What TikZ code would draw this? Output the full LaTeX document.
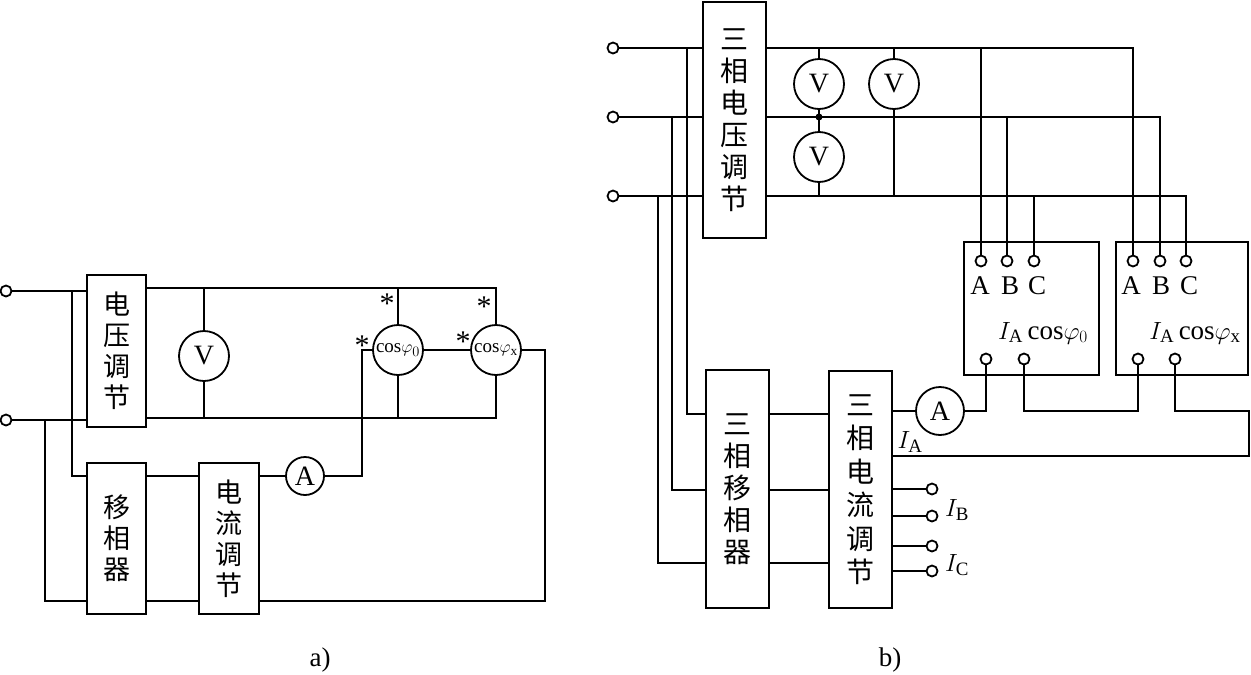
\documentclass[tikz,border=0pt]{standalone}
\usepackage{fontspec}
\setmainfont{Liberation Serif}
\newfontfamily\cjk{Noto Sans CJK SC}
\usepackage{tikz}
\usetikzlibrary{positioning, calc}

\tikzstyle{block} = [draw, inner sep=0pt, align=center, font=\cjk\fontsize{27}{31}\selectfont]
\tikzstyle{meter} = [draw, circle, inner sep=0pt, fill=white, minimum size=50pt, font=\fontsize{28}{28}\selectfont]
\tikzstyle{term} = [draw, circle, inner sep=0pt, fill=white, minimum size=11pt]
\tikzstyle{lbl} = [inner sep=0pt, font=\fontsize{27}{27}\selectfont]
\tikzstyle{starlabel} = [inner sep=0pt, font=\fontsize{30}{30}\selectfont]
\tikzstyle{cosfont} = [font=\fontsize{19}{19}\selectfont]

\begin{document}
\begin{tikzpicture}[x=1pt, y=-1pt, line width=1.8pt]
\useasboundingbox (0,0) rectangle (1251,675);

% a)
\node[term] (ta1) at (6,291) {};
\node[term] (ta2) at (6,420) {};
\node[block, minimum width=59pt, minimum height=152pt] (vreg) at (116.5,351) {电\\压\\调\\节};
\node[block, minimum width=59pt, minimum height=151pt] (shift) at (116.5,538.5) {移\\相\\器};
\node[block, minimum width=60pt, minimum height=151pt] (creg) at (229,538.5) {电\\流\\调\\节};
\node[meter] (Va) at (204,356) {V};
\node[meter, minimum size=38pt] (Aa) at (305,476) {A};
\node[meter, cosfont] (c0) at (398,350) {cos$\varphi_0$};
\node[meter, cosfont] (cx) at (496,350) {cos$\varphi_{\mathrm{x}}$};
\node[starlabel] at (387,304) {*};
\node[starlabel] at (362,346) {*};
\node[starlabel] at (484,307) {*};
\node[starlabel] at (463,342) {*};
\node[lbl] (capa) at (320,660) {a)};

\coordinate (atop) at (496,288);
\coordinate (abot) at (496,418);
\coordinate (tapa1) at (72,291);
\coordinate (tapa2) at (45,420);
\coordinate (bend) at (362,476);
\coordinate (ret) at (545,601);

\draw (ta1) -- (vreg.west |- ta1);
\draw (ta2) -- (vreg.west |- ta2);
\draw (vreg.east |- atop) -- (atop) -- (cx.north);
\draw (vreg.east |- abot) -- (abot) -- (cx.south);
\draw (Va.north) -- (Va |- atop);
\draw (Va.south) -- (Va |- abot);
\draw (c0.north) -- (c0 |- atop);
\draw (c0.south) -- (c0 |- abot);
\draw (c0.east) -- (cx.west);
\draw (tapa1) |- (shift.west |- Aa);
\draw (tapa2) |- (shift.west |- ret);
\draw (shift.east |- Aa) -- (creg.west |- Aa);
\draw (shift.east |- ret) -- (creg.west |- ret);
\draw (creg.east |- Aa) -- (Aa.west);
\draw (Aa.east) -- (bend) |- (c0.west);
\draw (creg.east |- ret) -- (ret) |- (cx.east);

% b)
\node[term] (tb1) at (613,48) {};
\node[term] (tb2) at (613,117) {};
\node[term] (tb3) at (613,196) {};
\node[block, minimum width=63pt, minimum height=236pt, font=\cjk\fontsize{28}{32}\selectfont] (vreg3) at (734.5,120) {三\\相\\电\\压\\调\\节};
\node[block, minimum width=63pt, minimum height=238pt, font=\cjk\fontsize{28}{32}\selectfont] (shift3) at (737.5,489) {三\\相\\移\\相\\器};
\node[block, minimum width=63pt, minimum height=237pt, font=\cjk\fontsize{28}{33.5}\selectfont] (creg3) at (860.5,489.5) {三\\相\\电\\流\\调\\节};
\node[meter] (V1) at (819,84) {V};
\node[meter] (V2) at (894,84) {V};
\node[meter] (V3) at (819,157) {V};
\node[meter, minimum size=48pt] (Ab) at (940,411) {A};
\node[draw, minimum width=135pt, minimum height=133pt] (pf0) at (1031.5,308.5) {};
\node[draw, minimum width=132pt, minimum height=133pt] (pfx) at (1182,308.5) {};
\node[term] (pa0) at (981,261) {};
\node[term] (pb0) at (1007,261) {};
\node[term] (pc0) at (1034,261) {};
\node[term] (pax) at (1133,261) {};
\node[term] (pbx) at (1160,261) {};
\node[term] (pcx) at (1186,261) {};
\node[lbl] at (980,286) {A};
\node[lbl] at (1010,286) {B};
\node[lbl] at (1037,286) {C};
\node[lbl] at (1131,286) {A};
\node[lbl] at (1161,286) {B};
\node[lbl] at (1189,286) {C};
\node[lbl] at (1043,333) {$I_{\mathrm{A}}$\,cos$\varphi_0$};
\node[lbl] at (1195,333) {$I_{\mathrm{A}}$\,cos$\varphi_{\mathrm{x}}$};
\node[term] (pi0) at (986,359) {};
\node[term] (pu0) at (1024,359) {};
\node[term] (pix) at (1138,359) {};
\node[term] (pux) at (1175,359) {};
\node[term] (tB1) at (932,489) {};
\node[term] (tB2) at (932,516) {};
\node[term] (tC1) at (932,546) {};
\node[term] (tC2) at (932,571) {};
\node[lbl] at (910,442) {$I_{\mathrm{A}}$};
\node[lbl] at (957,510) {$I_{\mathrm{B}}$};
\node[lbl] at (957,565) {$I_{\mathrm{C}}$};
\node[lbl] (capb) at (890,660) {b)};

\coordinate (btop) at (1133,48);
\coordinate (bmid) at (1160,117);
\coordinate (bbot) at (1186,196);
\coordinate (tapb1) at (687,48);
\coordinate (tapb2) at (672,117);
\coordinate (tapb3) at (658,196);
\coordinate (sh1) at (706,414);
\coordinate (sh2) at (706,490);
\coordinate (sh3) at (706,563);
\coordinate (jn) at (819,117);
\coordinate (iaend) at (1249,456);

\draw (tb1) -- (vreg3.west |- tb1);
\draw (tb2) -- (vreg3.west |- tb2);
\draw (tb3) -- (vreg3.west |- tb3);
\draw (tapb1) |- (sh1);
\draw (tapb2) |- (sh2);
\draw (tapb3) |- (sh3);
\draw (shift3.east |- sh1) -- (creg3.west |- sh1);
\draw (shift3.east |- sh2) -- (creg3.west |- sh2);
\draw (shift3.east |- sh3) -- (creg3.west |- sh3);
\draw (vreg3.east |- btop) -- (btop) -- (pax);
\draw (vreg3.east |- bmid) -- (bmid) -- (pbx);
\draw (vreg3.east |- bbot) -- (bbot) -- (pcx);
\draw (pa0) -- (pa0 |- btop);
\draw (pb0) -- (pb0 |- bmid);
\draw (pc0) -- (pc0 |- bbot);
\draw (V1.north) -- (V1 |- btop);
\draw (V1.south) -- (jn) -- (V3.north);
\draw (V3.south) -- (V3 |- bbot);
\draw (V2.north) -- (V2 |- btop);
\draw (V2.south) -- (V2 |- bbot);
\fill (jn) circle[radius=3.5pt];
\draw (creg3.east |- Ab) -- (Ab.west);
\draw (Ab.east) -| (pi0);
\draw (pu0) -- (pu0 |- Ab) -| (pix);
\draw (pux) |- (iaend |- Ab) -- (iaend) -- (creg3.east |- iaend);
\draw (creg3.east |- tB1) -- (tB1);
\draw (creg3.east |- tB2) -- (tB2);
\draw (creg3.east |- tC1) -- (tC1);
\draw (creg3.east |- tC2) -- (tC2);
\end{tikzpicture}
\end{document}
